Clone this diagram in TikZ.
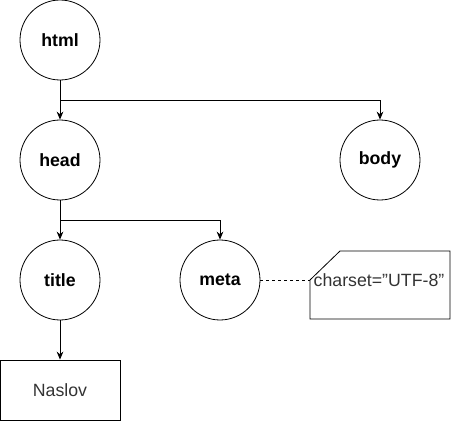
\documentclass[tikz,border=0pt]{standalone}
\usepackage{fontspec}
\setmainfont{Liberation Sans}
\usetikzlibrary{arrows.meta}
\definecolor{Ink}{HTML}{000000}
\definecolor{Soft}{HTML}{333333}
\tikzset{
  tag/.style={draw=Ink, circle, line width=0.6pt, minimum size=60pt, inner sep=0pt,
    font=\fontsize{13.3}{16}\selectfont\bfseries},
  leaf/.style={draw=Ink, line width=0.6pt, minimum width=90pt, minimum height=45pt, inner sep=0pt,
    text=Soft, font=\fontsize{13.3}{16}\selectfont},
  link/.style={Ink, line width=0.75pt, -{Stealth[length=6pt, width=5pt]}},
}

\begin{document}
\begin{tikzpicture}[x=0.75pt, y=-0.75pt]
        \useasboundingbox (0,0) rectangle (451,421);
        \node[tag] (html) at (60,40) {html};
        \node[tag] (head) at (60,160) {head};
        \node[tag] (body) at (380,160) {body};
        \node[tag] (title) at (60,280) {title};
        \node[tag] (meta) at (220,280) {meta};
        \node[leaf] (naslov) at (60,390) {Naslov};
        \node[text=Soft, font=\fontsize{13.3}{16}\selectfont, inner sep=0pt] (charset) at (379,280) {charset=\symbol{34}UTF-8\symbol{34}};
        \coordinate (cardtip) at (310,280);
        % card with a cut corner
        \draw[Ink, line width=0.6pt] (340,251) -- (450,251) -- (450,319) -- (310,319) -- (cardtip) -- cycle;
        \draw[link] (html.south) -- (head.north);
        \draw[link] (html.south) -- ++(0,20) -| (body.north);
        \draw[link] (head.south) -- (title.north);
        \draw[link] (head.south) -- ++(0,20) -| (meta.north);
        \draw[link] (title.south) -- (naslov.north);
        \draw[Ink, line width=0.6pt, dash pattern=on 2.25pt off 2.25pt] (meta.east) -- (cardtip);
      \end{tikzpicture}
\end{document}
